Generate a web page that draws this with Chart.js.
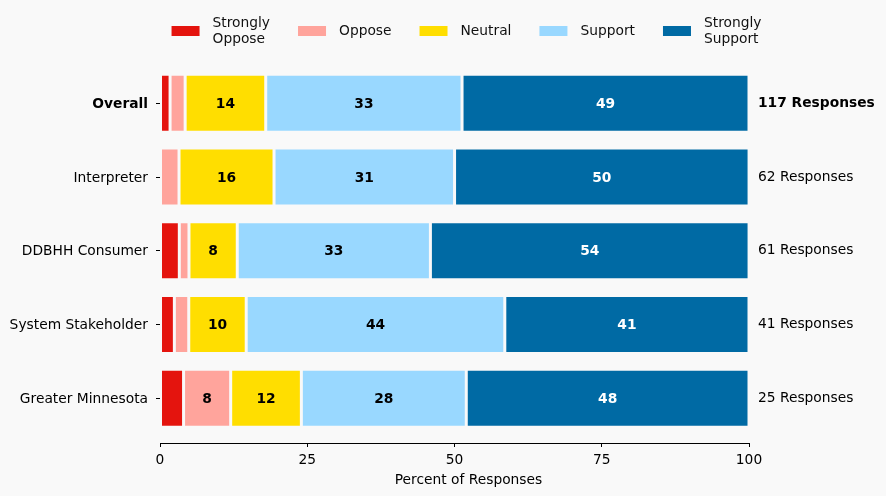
<!DOCTYPE html>
<html>
<head>
<meta charset="utf-8">
<script src="https://cdn.jsdelivr.net/npm/chart.js@4.4.0/dist/chart.umd.min.js"></script>
<style>
  html, body { margin: 0; background: #f9f9f9; }
  #wrap { width: 886px; height: 496px; }
</style>
</head>
<body>
<div id="wrap"><canvas id="chart"></canvas></div>
<script>
const groups = ['Overall', 'Interpreter', 'DDBHH Consumer', 'System Stakeholder', 'Greater Minnesota'];
const responses = [117, 62, 61, 41, 25];
const responseLevels = ['Strongly\nOppose', 'Oppose', 'Neutral', 'Support', 'Strongly\nSupport'];
const stronglyOppose = [1.71, 0, 3.28, 2.44, 4];
const oppose = [2.56, 3.23, 1.64, 2.44, 8];
const neutral = [13.68, 16.13, 8.2, 9.76, 12];
const support = [33.33, 30.65, 32.79, 43.9, 28];
const stronglySupport = [48.72, 50.0, 54.1, 41.46, 48];
const xTicks = [0, 25, 50, 75, 100];

const bg = '#f9f9f9';
const colors = ['#e4140e', '#ffa49c', '#ffde00', '#99d8ff', '#006aa4'];
const labelColors = ['#000', '#000', '#000', '#000', '#fff'];
const series = [stronglyOppose, oppose, neutral, support, stronglySupport];
const rows = groups.map((g, i) => i);
const FONT_SIZE = 13.8;

Chart.defaults.font.family = 'DejaVu Sans';
Chart.defaults.font.size = FONT_SIZE;
Chart.defaults.color = '#000';

// fill page colour behind the chart
const background = {
    id: 'background',
    beforeDraw(chart) {
        const ctx = chart.ctx;
        ctx.save();
        ctx.fillStyle = bg;
        ctx.fillRect(0, 0, chart.width, chart.height);
        ctx.restore();
    }
};

// numbers inside the segments (only the wider ones) + x axis title
const valueLabels = {
    id: 'valueLabels',
    afterDatasetsDraw(chart) {
        const ctx = chart.ctx;
        ctx.save();
        ctx.font = 'bold ' + FONT_SIZE + 'px "DejaVu Sans"';
        ctx.textAlign = 'center';
        ctx.textBaseline = 'middle';
        chart.data.datasets.forEach((ds, i) => {
            chart.getDatasetMeta(i).data.forEach((bar, j) => {
                const v = ds.data[j].x;
                if (v < 5) return;
                const p = bar.getCenterPoint();
                ctx.fillStyle = labelColors[i];
                ctx.fillText(Math.round(v), p.x, p.y + 1);
            });
        });
        ctx.font = FONT_SIZE + 'px "DejaVu Sans"';
        ctx.fillStyle = '#000';
        const a = chart.chartArea;
        ctx.fillText('Percent of Responses', (a.left + a.right) / 2 + 14, 480);
        ctx.restore();
    }
};

// legend row on top, two-line labels allowed
const topLegend = {
    id: 'topLegend',
    afterDraw(chart) {
        const ctx = chart.ctx;
        ctx.save();
        ctx.font = FONT_SIZE + 'px "DejaVu Sans"';
        ctx.textAlign = 'left';
        ctx.textBaseline = 'middle';
        const items = chart.data.datasets.map(ds => {
            const lines = ds.label.split('\n');
            const w = Math.max(...lines.map(l => ctx.measureText(l).width));
            return { lines, w, color: ds.backgroundColor };
        });
        const boxW = 28, boxH = 10, gap = 13, space = 28, cy = 31;
        const total = items.reduce((s, it) => s + boxW + gap + it.w, 0) + space * (items.length - 1);
        let x = (chart.chartArea.left + chart.chartArea.right) / 2 - total / 2 + 12;
        items.forEach(it => {
            ctx.fillStyle = it.color;
            ctx.fillRect(x, cy - boxH / 2, boxW, boxH);
            ctx.fillStyle = '#111';
            it.lines.forEach((l, k) => {
                ctx.fillText(l, x + boxW + gap, cy + (k - (it.lines.length - 1) / 2) * 16);
            });
            x += boxW + gap + it.w + space;
        });
        ctx.restore();
    }
};

const boldFirst = ctx => ({ weight: ctx.index === 0 ? 'bold' : 'normal' });
const rowTicks = s => { s.ticks = rows.map(v => ({ value: v })); };

new Chart(document.getElementById('chart'), {
    type: 'bar',
    data: {
        datasets: responseLevels.map((label, i) => ({
            label: label,
            data: series[i].map((v, j) => ({ x: v, y: j })),
            backgroundColor: colors[i],
            borderColor: bg,
            borderWidth: 1.5,
            borderSkipped: false,
            barPercentage: 0.785,
            categoryPercentage: 1
        }))
    },
    options: {
        indexAxis: 'y',
        responsive: true,
        maintainAspectRatio: false,
        animation: false,
        layout: { padding: { top: 58.6, left: 0, right: 0, bottom: 0 } },
        plugins: {
            legend: { display: false },
            tooltip: { enabled: false }
        },
        scales: {
            x: {
                type: 'linear',
                min: 0,
                max: 100,
                stacked: true,
                afterBuildTicks: s => { s.ticks = xTicks.map(v => ({ value: v })); },
                afterFit: s => { s.height = 53; },
                border: { display: true, color: '#000', width: 1 },
                grid: { drawOnChartArea: false, drawTicks: true, tickLength: 4, color: '#000' },
                ticks: { padding: 5 }
            },
            y: {
                type: 'linear',
                reverse: true,
                min: -0.606,
                max: 4.606,
                stacked: true,
                offset: false,
                afterBuildTicks: rowTicks,
                afterFit: s => { s.width = 160; },
                border: { display: false },
                grid: { offset: false, drawOnChartArea: false, drawTicks: true, tickLength: 4, color: '#000' },
                ticks: { padding: 8, labelOffset: 1, callback: v => groups[v], font: boldFirst }
            },
            y2: {
                type: 'linear',
                position: 'right',
                reverse: true,
                min: -0.606,
                max: 4.606,
                offset: false,
                afterBuildTicks: rowTicks,
                afterFit: s => { s.width = 137; },
                border: { display: false },
                grid: { display: false, drawTicks: false, drawOnChartArea: false },
                ticks: { padding: 9, labelOffset: 0, callback: v => responses[v] + ' Responses', font: boldFirst }
            }
        }
    },
    plugins: [background, valueLabels, topLegend]
});
</script>
</body>
</html>
